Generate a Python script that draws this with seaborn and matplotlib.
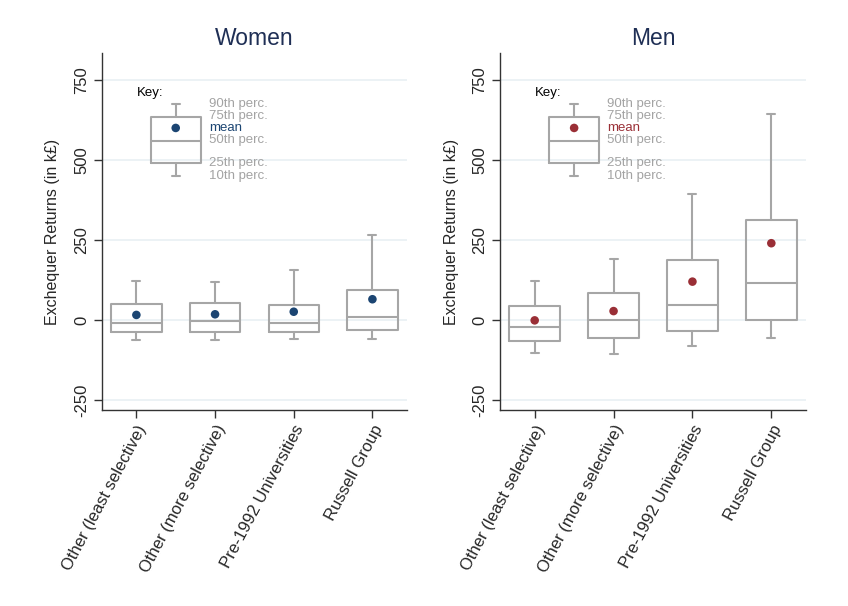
import matplotlib
matplotlib.use("Agg")
import matplotlib.pyplot as plt
import seaborn as sns
import pandas as pd
import numpy as np

categories = ["Other (least selective)", "Other (more selective)",
              "Pre-1992 Universities", "Russell Group"]

# Women: p10, p25, p50, p75, p90, mean (k£)
women_p10 = [-62, -62, -59, -59]
women_p25 = [-38, -36, -36, -30]
women_p50 = [-8, -2, -10, 8]
women_p75 = [50, 52, 48, 93]
women_p90 = [123, 118, 155, 265]
women_mean = [16, 18, 26, 65]

# Men
men_p10 = [-104, -107, -82, -57]
men_p25 = [-66, -55, -33, 0]
men_p50 = [-23, 0, 46, 115]
men_p75 = [45, 86, 189, 312]
men_p90 = [123, 191, 395, 643]
men_mean = [-1, 28, 120, 240]

# Key box
key_stats = [451, 490, 560, 635, 675, 600]
key_labels = ["10th perc.", "25th perc.", "50th perc.", "75th perc.", "90th perc.", "mean"]
key_label_y = [450, 491, 563, 638, 675, 600]

yticks = [-250, 0, 250, 500, 750]

sns.set_theme(style="white")
plt.rcParams['font.family'] = ['Liberation Sans', 'DejaVu Sans']

fig = plt.figure(figsize=(8.48, 6.06), dpi=100)
ax1 = fig.add_axes([0.12, 0.3234, 0.36, 0.5891])
ax2 = fig.add_axes([0.5896, 0.3234, 0.3609, 0.5891])

box_color = "#a6a6a6"
grid_color = "#e9f0f3"

def make_stats(p10, p25, p50, p75, p90):
    out = []
    for a, b, c, d, e in zip(p10, p25, p50, p75, p90):
        out.append(dict(whislo=a, q1=b, med=c, q3=d, whishi=e, fliers=[]))
    return out

def draw_panel(ax, title, p10, p25, p50, p75, p90, mean, mcolor):
    ax.set_xlim(-0.44, 3.44)
    ax.set_ylim(-281, 834)
    for y in yticks:
        ax.axhline(y, color=grid_color, lw=1.2, zorder=0)
    props = dict(color=box_color, linewidth=1.5)
    stats = make_stats(p10, p25, p50, p75, p90)
    ax.bxp(stats, positions=range(len(stats)), widths=0.64, showfliers=False,
           boxprops=props, whiskerprops=props, capprops=props, medianprops=props,
           capwidths=0.1, manage_ticks=False)
    # key box
    k = key_stats
    ax.bxp([dict(whislo=k[0], q1=k[1], med=k[2], q3=k[3], whishi=k[4], fliers=[])],
           positions=[0.5], widths=0.64, showfliers=False,
           boxprops=props, whiskerprops=props, capprops=props, medianprops=props,
           capwidths=0.1, manage_ticks=False)
    df = pd.DataFrame({"x": list(range(len(mean))) + [0.5], "y": list(mean) + [k[5]]})
    sns.scatterplot(data=df, x="x", y="y", ax=ax, color=mcolor, s=38,
                    edgecolor="none", zorder=5)
    ax.text(0.0, 709, "Key:", fontsize=9.5, color="black", ha="left", va="center")
    for lab, yy in zip(key_labels, key_label_y):
        ax.text(0.92, yy, lab, fontsize=9.5, ha="left", va="center",
                color=mcolor if lab == "mean" else "#a3a3a3")
    ax.set_xticks(range(len(categories)))
    ax.set_xticklabels(categories, rotation=62, ha="right", rotation_mode="anchor",
                       fontsize=12)
    ax.set_yticks(yticks)
    ax.set_yticklabels([str(t) for t in yticks], rotation=90, va="center", fontsize=12)
    ax.set_xlabel("")
    ax.set_ylabel("Exchequer Returns (in k£)", fontsize=11.5, labelpad=10)
    ax.set_title(title, fontsize=16.5, color="#1f2f55", pad=6)
    for s in ["top", "right"]:
        ax.spines[s].set_visible(False)
    for s in ["left", "bottom"]:
        ax.spines[s].set_color("#333333")
        ax.spines[s].set_linewidth(1.0)
    ax.tick_params(axis="both", which="both", length=6, width=1.0, color="#333333",
                   left=True, bottom=True, pad=3)

draw_panel(ax1, "Women", women_p10, women_p25, women_p50, women_p75, women_p90,
           women_mean, "#1b4572")
draw_panel(ax2, "Men", men_p10, men_p25, men_p50, men_p75, men_p90,
           men_mean, "#9a2f36")

fig.savefig("out.png", dpi=100, facecolor="white")
